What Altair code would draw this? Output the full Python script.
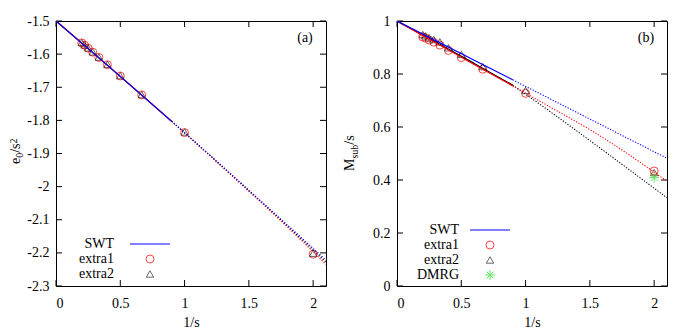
import altair as alt
import pandas as pd

FONT = "Liberation Serif"

# ---------------- data ----------------
inv_s = [0.2, 0.2222, 0.25, 0.2857, 0.3333, 0.4, 0.5, 0.6667, 1.0, 2.0]

# panel (a): e0/s^2
e_extra1 = [-1.566, -1.573, -1.582, -1.594, -1.610, -1.632, -1.666, -1.723, -1.837, -2.204]
e_extra2 = [-1.565, -1.572, -1.581, -1.593, -1.609, -1.631, -1.665, -1.722, -1.835, -2.201]

# panel (b): Msub/s
m_extra1 = [0.940, 0.935, 0.928, 0.920, 0.909, 0.889, 0.862, 0.818, 0.727, 0.434]
m_extra2 = [0.949, 0.944, 0.937, 0.930, 0.921, 0.899, 0.874, 0.828, 0.738, 0.428]
dmrg_x = [2.0]
dmrg_m = [0.409]

# fitted / SWT curves (solid up to 1/s = 0.9, dotted beyond)
curve_x = [0.0, 0.3, 0.6, 0.9, 1.2, 1.5, 1.8, 2.1]
e_swt = [-1.5, -1.600, -1.701, -1.803, -1.906, -2.011, -2.116, -2.222]
e_fit1 = [-1.5, -1.600, -1.701, -1.803, -1.908, -2.014, -2.122, -2.235]
e_fit2 = [-1.5, -1.600, -1.701, -1.803, -1.907, -2.012, -2.119, -2.228]
m_swt = [1.0, 0.926, 0.852, 0.778, 0.704, 0.630, 0.556, 0.482]
m_fit1 = [1.0, 0.918, 0.836, 0.755, 0.673, 0.590, 0.497, 0.395]
m_fit2 = [1.0, 0.921, 0.840, 0.758, 0.655, 0.549, 0.441, 0.333]
SPLIT = 3  # index of 1/s = 0.9

x_ticks = [0, 0.5, 1, 1.5, 2]
e_ticks = [-1.5, -1.6, -1.7, -1.8, -1.9, -2, -2.1, -2.2, -2.3]
m_ticks = [0, 0.2, 0.4, 0.6, 0.8, 1]

legend_a = ["SWT", "extra1", "extra2"]
legend_b = ["SWT", "extra1", "extra2", "DMRG"]

# ---------------- styling ----------------
W, H = 270, 265
TICK = 6
BLUE, RED, BLACK, GREEN = "#0000ff", "#ff0000", "#000000", "#22dd22"
ASTERISK = "M -1 0 L 1 0 M 0 -1 L 0 1 M -0.7 -0.7 L 0.7 0.7 M -0.7 0.7 L 0.7 -0.7"
CIRCLE_SIZE, TRI_SIZE = 64, 55
one = pd.DataFrame({"k": [0]})


def make_x():
    return alt.X(
        "x:Q",
        scale=alt.Scale(domain=[0, 2.1], nice=False, zero=False),
        axis=alt.Axis(values=x_ticks, title="1/s", labelExpr="toString(datum.value)",
                      ticks=False, tickSize=0, domain=False, grid=False,
                      labelFont=FONT, labelFontSize=14, labelColor="black",
                      titleFont=FONT, titleFontSize=14, titleFontWeight="normal",
                      titleColor="black", labelPadding=10, titlePadding=5),
    )


def make_y(dom, ticks):
    return alt.Y(
        "y:Q",
        scale=alt.Scale(domain=dom, nice=False, zero=False),
        axis=alt.Axis(values=ticks, title=None, labelExpr="toString(datum.value)",
                      ticks=False, tickSize=0, domain=False, grid=False,
                      labelFont=FONT, labelFontSize=14, labelColor="black",
                      labelPadding=7),
    )


def txt(s, x, y, size=14, align="left", angle=None, baseline="middle"):
    kw = dict(font=FONT, fontSize=size, align=align, baseline=baseline, color="black")
    if angle is not None:
        kw["angle"] = angle
    return alt.Chart(one).mark_text(**kw).encode(
        x=alt.value(x), y=alt.value(y), text=alt.value(s))


def panel(ydom, yticks, series_pts, curves, legend_labels, legend_y0, legend_dx,
          line_off, sym_off, title_parts, tag, dmrg=None):
    X = make_x()
    Y = make_y(ydom, yticks)
    layers = []
    # inward tick marks on all four sides
    dfx = pd.DataFrame({"x": x_ticks})
    dfy = pd.DataFrame({"y": yticks})
    layers.append(alt.Chart(dfx).mark_rule(color="black", strokeWidth=1).encode(
        x=X, y=alt.value(H), y2=alt.value(H - TICK)))
    layers.append(alt.Chart(dfx).mark_rule(color="black", strokeWidth=1).encode(
        x=X, y=alt.value(0), y2=alt.value(TICK)))
    layers.append(alt.Chart(dfy).mark_rule(color="black", strokeWidth=1).encode(
        y=Y, x=alt.value(0), x2=alt.value(TICK)))
    layers.append(alt.Chart(dfy).mark_rule(color="black", strokeWidth=1).encode(
        y=Y, x=alt.value(W), x2=alt.value(W - TICK)))

    # data points
    (y1, y2) = series_pts
    layers.append(alt.Chart(pd.DataFrame({"x": inv_s, "y": y1})).mark_point(
        shape="circle", filled=False, color=RED, size=CIRCLE_SIZE, strokeWidth=0.9,
        opacity=0.8).encode(x=X, y=Y))
    layers.append(alt.Chart(pd.DataFrame({"x": inv_s, "y": y2})).mark_point(
        shape="triangle-up", filled=False, color=BLACK, size=TRI_SIZE, strokeWidth=0.8,
        opacity=0.75).encode(x=X, y=Y))
    if dmrg is not None:
        layers.append(alt.Chart(pd.DataFrame({"x": dmrg[0], "y": dmrg[1]})).mark_point(
            shape=ASTERISK, filled=False, color=GREEN, size=100, strokeWidth=1
        ).encode(x=X, y=Y))

    # curves
    for ys, col in curves:
        solid = pd.DataFrame({"x": curve_x[:SPLIT + 1], "y": ys[:SPLIT + 1]})
        dotted = pd.DataFrame({"x": curve_x[SPLIT:], "y": ys[SPLIT:]})
        layers.append(alt.Chart(solid).mark_line(
            color=col, strokeWidth=1.2, interpolate="monotone", clip=True).encode(x=X, y=Y))
        layers.append(alt.Chart(dotted).mark_line(
            color=col, strokeWidth=1.1, strokeDash=[1.2, 1.6], interpolate="monotone",
            clip=True).encode(x=X, y=Y))

    # legend (label right-aligned, sample on the right)
    lx = legend_dx
    for i, lab in enumerate(legend_labels):
        yy = legend_y0 + i * 15
        layers.append(txt(lab, lx, yy, align="right"))
        if lab == "SWT":
            layers.append(alt.Chart(one).mark_rule(color=BLUE, strokeWidth=1.2).encode(
                x=alt.value(lx + line_off), x2=alt.value(lx + line_off + 40), y=alt.value(yy)))
        elif lab == "extra1":
            layers.append(alt.Chart(one).mark_point(
                shape="circle", filled=False, color=RED, size=CIRCLE_SIZE, strokeWidth=0.9,
                opacity=0.8).encode(x=alt.value(lx + sym_off), y=alt.value(yy)))
        elif lab == "extra2":
            layers.append(alt.Chart(one).mark_point(
                shape="triangle-up", filled=False, color=BLACK, size=TRI_SIZE, strokeWidth=0.8,
                opacity=0.75).encode(x=alt.value(lx + sym_off), y=alt.value(yy)))
        elif lab == "DMRG":
            layers.append(alt.Chart(one).mark_point(
                shape=ASTERISK, filled=False, color=GREEN, size=100, strokeWidth=1
            ).encode(x=alt.value(lx + sym_off), y=alt.value(yy)))

    # panel tag
    layers.append(txt(tag, 249, 17, align="center"))

    # rotated y-axis title pieces: (text, size, x, y)
    for s, size, x, y in title_parts:
        layers.append(txt(s, x, y, size=size, align="left", angle=270, baseline="alphabetic"))

    return alt.layer(*layers).properties(width=W, height=H)


# title pieces for (a): e_0 / s^2
ya = 143.0
title_a = [
    ("e", 14, -36, ya),
    ("0", 10, -33, ya - 6.2),
    ("/s", 14, -36, ya - 11.2),
    ("2", 10, -39, ya - 20.5),
]
# title pieces for (b): M_sub / s
yb = 150.0
title_b = [
    ("M", 14, -43, yb),
    ("sub", 10, -39.5, yb - 12.4),
    ("/s", 14, -43, yb - 26.3),
]

left = panel([-2.3, -1.5], e_ticks, (e_extra1, e_extra2),
             [(e_fit2, BLACK), (e_fit1, RED), (e_swt, BLUE)],
             legend_a, 223, 58, 16, 36, title_a, "(a)")
right = panel([0, 1], m_ticks, (m_extra1, m_extra2),
              [(m_fit2, BLACK), (m_fit1, RED), (m_swt, BLUE)],
              legend_b, 209, 62, 11, 31, title_b, "(b)", dmrg=(dmrg_x, dmrg_m))

chart = alt.hconcat(left, right, spacing=71, bounds="flush").properties(
    padding={"left": 0, "top": 5, "right": 5, "bottom": 5}
).configure_view(stroke="black", strokeWidth=1)

chart.save("out.html", embed_options={"renderer": "svg", "actions": False})
